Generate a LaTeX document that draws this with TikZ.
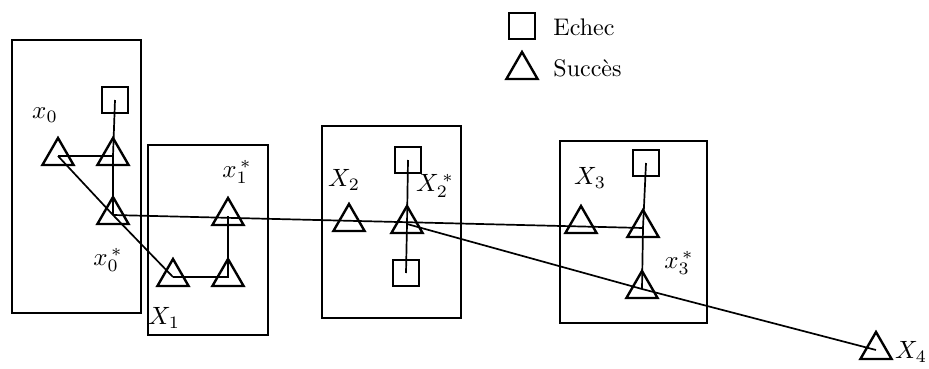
\documentclass[tikz,border=0pt]{standalone}
\usetikzlibrary{shapes.geometric}
\begin{document}
\begin{tikzpicture}[x=1pt,y=-1pt,
  box/.style={draw, line width=2.2pt, inner sep=0},
  tri/.style={draw, line width=2.4pt, regular polygon, regular polygon sides=3, minimum size=36pt, inner sep=0},
  sq/.style={draw, line width=2.4pt, minimum size=26pt, inner sep=0},
  link/.style={line width=1.7pt},
  lab/.style={scale=2.5, inner sep=0},
  leg/.style={scale=2.4, inner sep=0, anchor=west}]
\useasboundingbox (0,0) rectangle (929,369);
% boxes
\node[box, minimum width=129pt, minimum height=273pt] (box1) at (76.5,176.5) {};
\node[box, minimum width=120pt, minimum height=190pt] (box2) at (208,240) {};
\node[box, minimum width=139pt, minimum height=192pt] (box3) at (391.5,222) {};
\node[box, minimum width=147pt, minimum height=182pt] (box4) at (633.5,232) {};
% legend
\node[sq] (legsq) at (522,26) {};
\node[leg] (legE) at (553,27) {Echec};
\node[tri] (legtri) at (522,70) {};
\node[leg] (legS) at (553,68) {Succès};
% box 1
\node[sq] (S1) at (115,100) {};
\node[tri] (A) at (58,156) {};
\node[tri] (B) at (113,156) {};
\node[tri] (C) at (113,215) {};
% box 2
\node[tri] (D) at (173,277) {};
\node[tri] (E) at (228,277) {};
\node[tri] (F) at (228,216) {};
% box 3
\node[sq] (S3a) at (408,160) {};
\node[tri] (G) at (349,222) {};
\node[tri] (H) at (407,224) {};
\node[sq] (S3b) at (406,273) {};
% box 4
\node[sq] (S4) at (646,163) {};
\node[tri] (I) at (581,224) {};
\node[tri] (J) at (643,228) {};
\node[tri] (K) at (642,289) {};
% final
\node[tri] (L) at (876,350) {};
% connectors
\draw[link] (A.center) -- (B.center);
\draw[link] (S1.center) -- (B.center) -- (C.center);
\draw[link] (A.center) -- (C.center) -- (D.center);
\draw[link] (C.center) -- (J.center);
\draw[link] (D.center) -- (E.center) -- (F.center);
\draw[link] (S3a.center) -- (H.center) -- (S3b.center);
\draw[link] (H.center) -- (K.center) -- (L.center);
\draw[link] (S4.center) -- (J.center) -- (K.center);
% labels
\node[lab] (lA) at (45,115) {$x_0$};
\node[lab] (lC) at (108,260) {$x_0^{\,*}$};
\node[lab] (lD) at (164,318) {$X_1$};
\node[lab] (lF) at (237,172) {$x_1^{\,*}$};
\node[lab] (lG) at (344,180) {$X_2$};
\node[lab] (lH) at (435,186) {$X_2^{\,*}$};
\node[lab] (lI) at (590,178) {$X_3$};
\node[lab] (lK) at (679,263) {$x_3^{\,*}$};
\node[lab] (lL) at (911,352) {$X_4$};
\end{tikzpicture}
\end{document}
